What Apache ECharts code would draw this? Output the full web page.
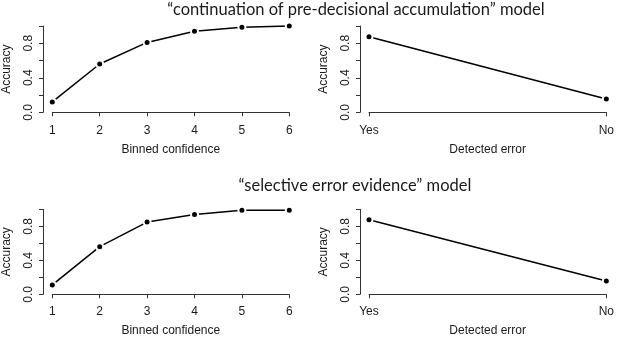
<!DOCTYPE html>
<html>
<head>
<meta charset="utf-8">
<script src="https://cdn.jsdelivr.net/npm/echarts@6/dist/echarts.min.js"></script>
<style>
html,body{margin:0;padding:0;background:#fff;}
#chart{width:617px;height:338px;}
</style>
</head>
<body>
<div id="chart"></div>
<script>
// ---- data ----
const titles = ['\u201ccontinuation of pre-decisional accumulation\u201d model', '\u201cselective error evidence\u201d model'];
const confBins = [1, 2, 3, 4, 5, 6];
const detectedCats = ['Yes', 'No'];
const accConfTop = [0.12, 0.56, 0.81, 0.94, 0.985, 1.0];
const accErrTop = [0.875, 0.155];
const accConfBottom = [0.11, 0.56, 0.85, 0.94, 0.99, 0.99];
const accErrBottom = [0.877, 0.157];
const yTickLabels = ['0.0', '0.4', '0.8'];
const xNameConf = 'Binned confidence';
const xNameErr = 'Detected error';
const yName = 'Accuracy';

const FONT = 'Liberation Sans, Arial, sans-serif';
const AX = '#333';
const TXT = '#1a1a1a';

const grids = [
  {left: 49.3, top: 26, width: 240, height: 86.3},
  {left: 369, top: 26, width: 240.3, height: 86.3},
  {left: 49.3, top: 209.3, width: 240, height: 87},
  {left: 369, top: 209.3, width: 240.3, height: 87}
];
const xOffsets = [4.4, 4.4, 3.7, 3.7];
const yOffsets = [9.3, 9, 9.3, 9];

function makeX(i) {
  const base = {
    gridIndex: i,
    offset: xOffsets[i],
    name: (i % 2 === 0) ? xNameConf : xNameErr,
    nameLocation: 'middle',
    nameGap: 27,
    nameTextStyle: {fontFamily: FONT, fontSize: 12, color: TXT},
    axisLine: {show: true, lineStyle: {color: AX, width: 1}},
    axisTick: {show: true, length: 4, lineStyle: {color: AX}},
    axisLabel: {fontFamily: FONT, fontSize: 12, color: TXT, margin: 8},
    splitLine: {show: false}
  };
  if (i % 2 === 0) {
    return Object.assign(base, {type: 'value', min: 1, max: 6, interval: 1});
  }
  return Object.assign(base, {type: 'category', data: detectedCats, boundaryGap: false,
    axisTick: {show: true, length: 4, alignWithLabel: true, lineStyle: {color: AX}}});
}
function makeY(i) {
  return {
    type: 'value', gridIndex: i, min: 0, max: 1, interval: 0.2,
    offset: yOffsets[i],
    name: yName, nameLocation: 'middle', nameGap: 30,
    nameTextStyle: {fontFamily: FONT, fontSize: 12, color: TXT},
    axisLine: {show: true, lineStyle: {color: AX, width: 1}},
    axisTick: {show: true, length: 4, lineStyle: {color: AX}},
    axisLabel: {
      fontFamily: FONT, fontSize: 12, color: TXT, rotate: 90, margin: 8,
      formatter: function (v) { const s = v.toFixed(1); return yTickLabels.indexOf(s) >= 0 ? s : ''; }
    },
    splitLine: {show: false}
  };
}
function makeSeries(i, data) {
  return {
    type: 'line', xAxisIndex: i, yAxisIndex: i, data: data, clip: false,
    symbol: 'circle', symbolSize: 7, showSymbol: true,
    lineStyle: {color: '#000', width: 1.5},
    itemStyle: {color: '#000', borderColor: '#fff', borderWidth: 2},
    emphasis: {disabled: true}, animation: false
  };
}

const option = {
  backgroundColor: '#fff',
  animation: false,
  title: [
    {text: titles[0], left: 351, top: -4, textAlign: 'center',
     textStyle: {fontFamily: 'Lato, sans-serif', fontSize: 16.5, fontWeight: 'normal', color: TXT}},
    {text: titles[1], left: 350, top: 172, textAlign: 'center',
     textStyle: {fontFamily: 'Lato, sans-serif', fontSize: 16.5, fontWeight: 'normal', color: TXT}}
  ],
  grid: grids,
  xAxis: [0, 1, 2, 3].map(makeX),
  yAxis: [0, 1, 2, 3].map(makeY),
  series: [
    makeSeries(0, confBins.map((c, k) => [c, accConfTop[k]])),
    makeSeries(1, accErrTop),
    makeSeries(2, confBins.map((c, k) => [c, accConfBottom[k]])),
    makeSeries(3, accErrBottom)
  ]
};
const chart = echarts.init(document.getElementById('chart'), null, {renderer: 'canvas'});
chart.setOption(option);
</script>
</body>
</html>
